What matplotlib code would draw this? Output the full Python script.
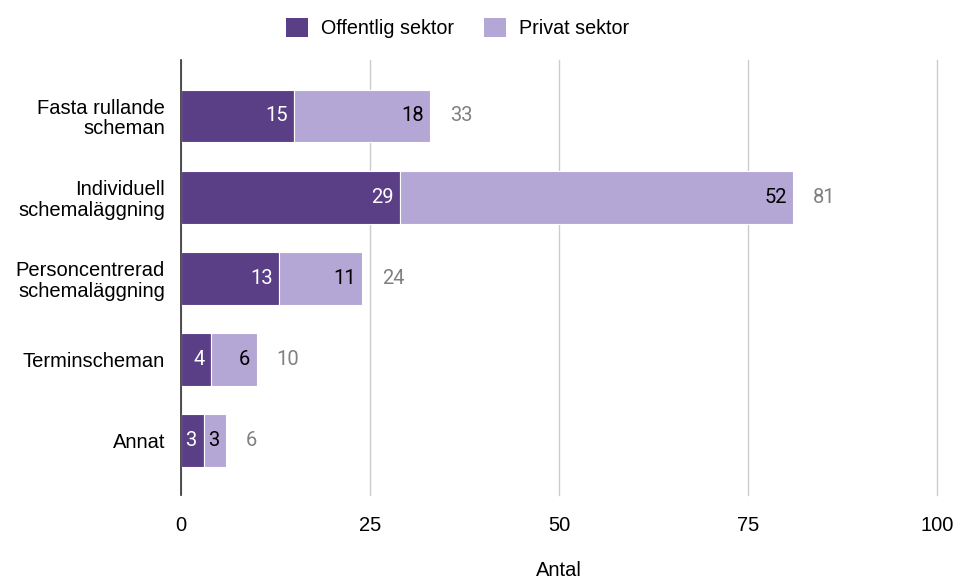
import matplotlib
matplotlib.use("Agg")
import matplotlib.pyplot as plt
from matplotlib.patches import Patch

categories = ["Fasta rullande\nscheman", "Individuell\nschemaläggning",
              "Personcentrerad\nschemaläggning", "Terminscheman", "Annat"]
offentlig = [15, 29, 13, 4, 3]
privat = [18, 52, 11, 6, 3]
totals = [33, 81, 24, 10, 6]
xticks = [0, 25, 50, 75, 100]

dark = "#5b3f86"
light = "#b4a7d6"
label_font = ["Liberation Sans", "DejaVu Sans"]
num_font = ["Roboto", "DejaVu Sans"]
fs = 14.5
nfs = 14.5

fig = plt.figure(figsize=(9.54, 5.80), dpi=100)
ax = fig.add_axes([0.1897, 0.1466, 0.9822 - 0.1897, 0.8966 - 0.1466])

y = list(range(len(categories)))
h = 0.65
ax.barh(y, offentlig, height=h, color=dark, edgecolor="white", linewidth=0.8, zorder=3)
ax.barh(y, privat, left=offentlig, height=h, color=light, edgecolor="white", linewidth=0.8, zorder=3)

for i in y:
    ax.text(offentlig[i] - 0.9, i, str(offentlig[i]), ha="right", va="center",
            color="white", fontsize=nfs, family=num_font, zorder=4)
    ax.text(offentlig[i] + privat[i] - 0.9, i, str(privat[i]), ha="right", va="center",
            color="black", fontsize=nfs, family=num_font, zorder=4)
    ax.text(totals[i] + 2.6, i, str(totals[i]), ha="left", va="center",
            color="#808080", fontsize=nfs, family=num_font, zorder=4)

ax.set_xlim(0, 100)
ax.set_ylim(4.67, -0.69)
ax.set_xticks(xticks)
ax.set_xticklabels([str(t) for t in xticks], family=label_font, fontsize=fs)
ax.set_yticks(y)
ax.set_yticklabels(categories, family=label_font, fontsize=fs, linespacing=1.1)
ax.tick_params(length=0)
ax.tick_params(axis="y", pad=11.5)
ax.tick_params(axis="x", pad=15)
ax.xaxis.grid(True, color="#cccccc", linewidth=1, zorder=0)
for gl in ax.get_xgridlines():
    gl.set_clip_on(False)
for s in ["top", "right", "bottom"]:
    ax.spines[s].set_visible(False)
ax.spines["left"].set_color("#333333")
ax.spines["left"].set_linewidth(1.2)
ax.spines["left"].set_zorder(5)

fig.text(0.5 * (0.1897 + 0.9822), 1 - 571 / 580, "Antal", ha="center", va="center",
         family=label_font, fontsize=fs)

handles = [Patch(facecolor=dark, label="Offentlig sektor"),
           Patch(facecolor=light, label="Privat sektor")]
fig.legend(handles=handles, loc="center", bbox_to_anchor=(0.4796, 1 - 28 / 580), ncol=2,
           frameon=False, prop={"family": label_font, "size": 14.2},
           handlelength=1.15, handleheight=1.15, handletextpad=0.65, columnspacing=1.5)

fig.savefig("out.png", dpi=100, facecolor="white")
